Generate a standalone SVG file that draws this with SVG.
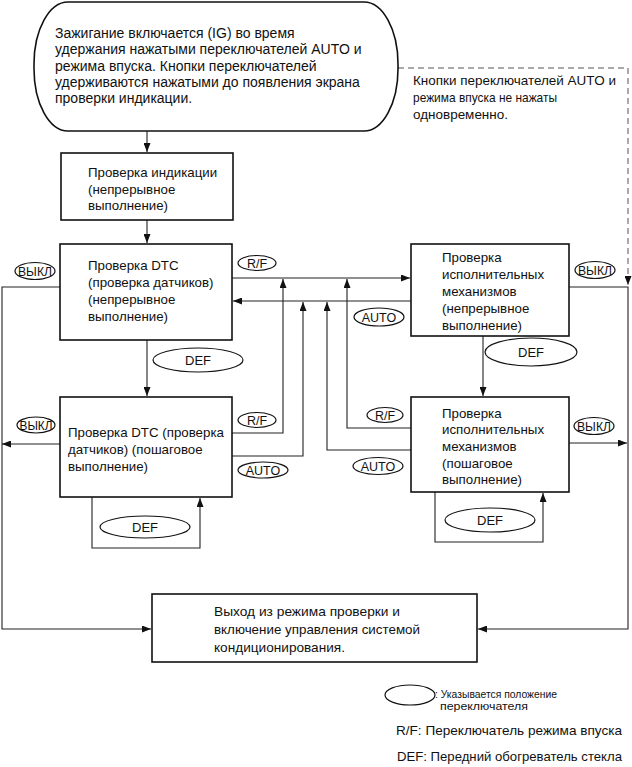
<svg xmlns="http://www.w3.org/2000/svg" width="632" height="767" viewBox="0 0 632 767">
<defs>
<marker id="ah" markerWidth="9" markerHeight="7" refX="9" refY="3.5" orient="auto" markerUnits="userSpaceOnUse">
<path d="M0,0 L9,3.5 L0,7 Z" fill="#111"/>
</marker>
<style>
.box{fill:#fff;stroke:#111;stroke-width:1.6}
.t{font-family:"Liberation Sans",Arial,sans-serif;font-size:13.3px;fill:#111}
.tt{font-family:"Liberation Sans",Arial,sans-serif;font-size:14px;fill:#111}
.lg{font-family:"Liberation Sans",Arial,sans-serif;font-size:13.5px;fill:#111}
.sm{font-family:"Liberation Sans",Arial,sans-serif;font-size:11.5px;fill:#111}
.el{fill:#fff;stroke:#111;stroke-width:1.2}
.et{font-family:"Liberation Sans",Arial,sans-serif;font-size:12.5px;fill:#111;text-anchor:middle}
.c{fill:none;stroke:#222;stroke-width:1.1}
.ca{fill:none;stroke:#222;stroke-width:1.1;marker-end:url(#ah)}
.d{fill:none;stroke:#555;stroke-width:1;stroke-dasharray:6,4}
</style>
</defs>
<rect width="632" height="767" fill="#fff"/>

<g id="connectors">
<path class="ca" d="M147,131 V152"/>
<path class="ca" d="M147,220 V243"/>
<path class="ca" d="M147,340 V396"/>
<path class="ca" d="M483,336 V396"/>
<path class="ca" d="M232,278 H410"/>
<path class="ca" d="M411,301 H233"/>
<path class="ca" d="M232,433 H283 V279"/>
<path class="ca" d="M232,456 H303 V302"/>
<path class="ca" d="M411,428 H347 V279"/>
<path class="ca" d="M411,450 H327 V302"/>
<path class="ca" d="M60,287 H2 V629 H151"/>
<path class="ca" d="M60,444 H2"/>
<path class="ca" d="M569,287 H628 V629 H478"/>
<path class="ca" d="M569,443 H627"/>
<path class="d" d="M398,68 H628 V277"/>
<path class="ca" d="M628,276 V285" style="stroke-width:0.5"/>
<path class="ca" d="M92,497 V548 H200 V498"/>
<path class="ca" d="M435,492 V542 H543 V493"/>
</g>

<g id="start">
<rect x="34" y="2" width="364" height="129" rx="34" ry="62" class="box"/>
<text class="tt" x="55" y="38">Зажигание включается (IG) во время</text>
<text class="tt" x="55" y="54">удержания нажатыми переключателей AUTO и</text>
<text class="tt" x="55" y="71">режима впуска. Кнопки переключателей</text>
<text class="tt" x="55" y="87">удерживаются нажатыми до появления экрана</text>
<text class="tt" x="55" y="103">проверки индикации.</text>
</g>

<g id="note">
<text class="t" x="413" y="85" textLength="203" lengthAdjust="spacingAndGlyphs">Кнопки переключателей AUTO и</text>
<text class="t" x="413" y="102" textLength="144" lengthAdjust="spacingAndGlyphs">режима впуска не нажаты</text>
<text class="t" x="413" y="119" textLength="95" lengthAdjust="spacingAndGlyphs">одновременно.</text>
</g>

<g id="indication">
<rect x="61" y="153" width="172" height="67" class="box"/>
<text class="t" x="88" y="177">Проверка индикации</text>
<text class="t" x="88" y="194">(непрерывное</text>
<text class="t" x="88" y="210">выполнение)</text>
</g>

<g id="dtc-cont">
<rect x="60" y="244" width="172" height="96" class="box"/>
<text class="t" x="88" y="270">Проверка DTC</text>
<text class="t" x="88" y="287">(проверка датчиков)</text>
<text class="t" x="88" y="304">(непрерывное</text>
<text class="t" x="88" y="321">выполнение)</text>
</g>

<g id="act-cont">
<rect x="411" y="244" width="158" height="92" class="box"/>
<text class="t" x="442" y="262">Проверка</text>
<text class="t" x="442" y="279">исполнительных</text>
<text class="t" x="442" y="296">механизмов</text>
<text class="t" x="442" y="313">(непрерывное</text>
<text class="t" x="442" y="330">выполнение)</text>
</g>

<g id="dtc-step">
<rect x="60" y="397" width="172" height="100" class="box"/>
<text class="t" x="68" y="437">Проверка DTC (проверка</text>
<text class="t" x="68" y="454">датчиков) (пошаговое</text>
<text class="t" x="68" y="471">выполнение)</text>
</g>

<g id="act-step">
<rect x="411" y="397" width="158" height="95" class="box"/>
<text class="t" x="442" y="418">Проверка</text>
<text class="t" x="442" y="434">исполнительных</text>
<text class="t" x="442" y="451">механизмов</text>
<text class="t" x="442" y="468">(пошаговое</text>
<text class="t" x="442" y="484">выполнение)</text>
</g>

<g id="exit">
<rect x="152" y="594" width="325" height="68" class="box"/>
<text class="t" x="214" y="616" textLength="186" lengthAdjust="spacingAndGlyphs">Выход из режима проверки и</text>
<text class="t" x="214" y="634" textLength="206" lengthAdjust="spacingAndGlyphs">включение управления системой</text>
<text class="t" x="214" y="652" textLength="131" lengthAdjust="spacingAndGlyphs">кондиционирования.</text>
</g>

<g id="labels">
<ellipse class="el" cx="35" cy="271" rx="20" ry="8.5"/>
<text class="et" x="35" y="275.5" textLength="34" lengthAdjust="spacingAndGlyphs" style="font-size:12px">ВЫКЛ</text>
<ellipse class="el" cx="257" cy="263" rx="19" ry="7.5"/>
<text class="et" x="257" y="267.5">R/F</text>
<ellipse class="el" cx="379" cy="317" rx="25" ry="9"/>
<text class="et" x="379" y="321.5">AUTO</text>
<ellipse class="el" cx="595" cy="270" rx="20" ry="8.5"/>
<text class="et" x="595" y="274.5" textLength="34" lengthAdjust="spacingAndGlyphs" style="font-size:12px">ВЫКЛ</text>
<ellipse class="el" cx="198" cy="360" rx="45" ry="12"/>
<text class="et" x="198" y="365" style="font-size:13px">DEF</text>
<ellipse class="el" cx="531" cy="352" rx="46" ry="14"/>
<text class="et" x="531" y="357" style="font-size:13px">DEF</text>
<ellipse class="el" cx="36" cy="425" rx="19" ry="8"/>
<text class="et" x="36" y="429.5" textLength="33" lengthAdjust="spacingAndGlyphs" style="font-size:12px">ВЫКЛ</text>
<ellipse class="el" cx="257" cy="420" rx="19" ry="7.5"/>
<text class="et" x="257" y="424.5">R/F</text>
<ellipse class="el" cx="263" cy="470" rx="25" ry="8"/>
<text class="et" x="263" y="474.5">AUTO</text>
<ellipse class="el" cx="385" cy="415" rx="18" ry="7.5"/>
<text class="et" x="385" y="419.5">R/F</text>
<ellipse class="el" cx="378" cy="466" rx="25" ry="8.5"/>
<text class="et" x="378" y="470.5">AUTO</text>
<ellipse class="el" cx="594" cy="426" rx="20" ry="8.5"/>
<text class="et" x="594" y="430.5" textLength="34" lengthAdjust="spacingAndGlyphs" style="font-size:12px">ВЫКЛ</text>
<ellipse class="el" cx="145" cy="527" rx="45" ry="11"/>
<text class="et" x="145" y="532" style="font-size:13px">DEF</text>
<ellipse class="el" cx="490" cy="520" rx="45" ry="12"/>
<text class="et" x="490" y="525" style="font-size:13px">DEF</text>
</g>

<g id="legend">
<ellipse class="el" cx="410" cy="695" rx="25" ry="10"/>
<text class="sm" x="435" y="698" textLength="122" lengthAdjust="spacingAndGlyphs">: Указывается положение</text>
<text class="sm" x="440" y="710" textLength="88" lengthAdjust="spacingAndGlyphs">переключателя</text>
<text class="lg" x="396" y="735" textLength="226" lengthAdjust="spacingAndGlyphs">R/F: Переключатель режима впуска</text>
<text class="lg" x="397" y="761" textLength="225" lengthAdjust="spacingAndGlyphs">DEF: Передний обогреватель стекла</text>
</g>
</svg>
